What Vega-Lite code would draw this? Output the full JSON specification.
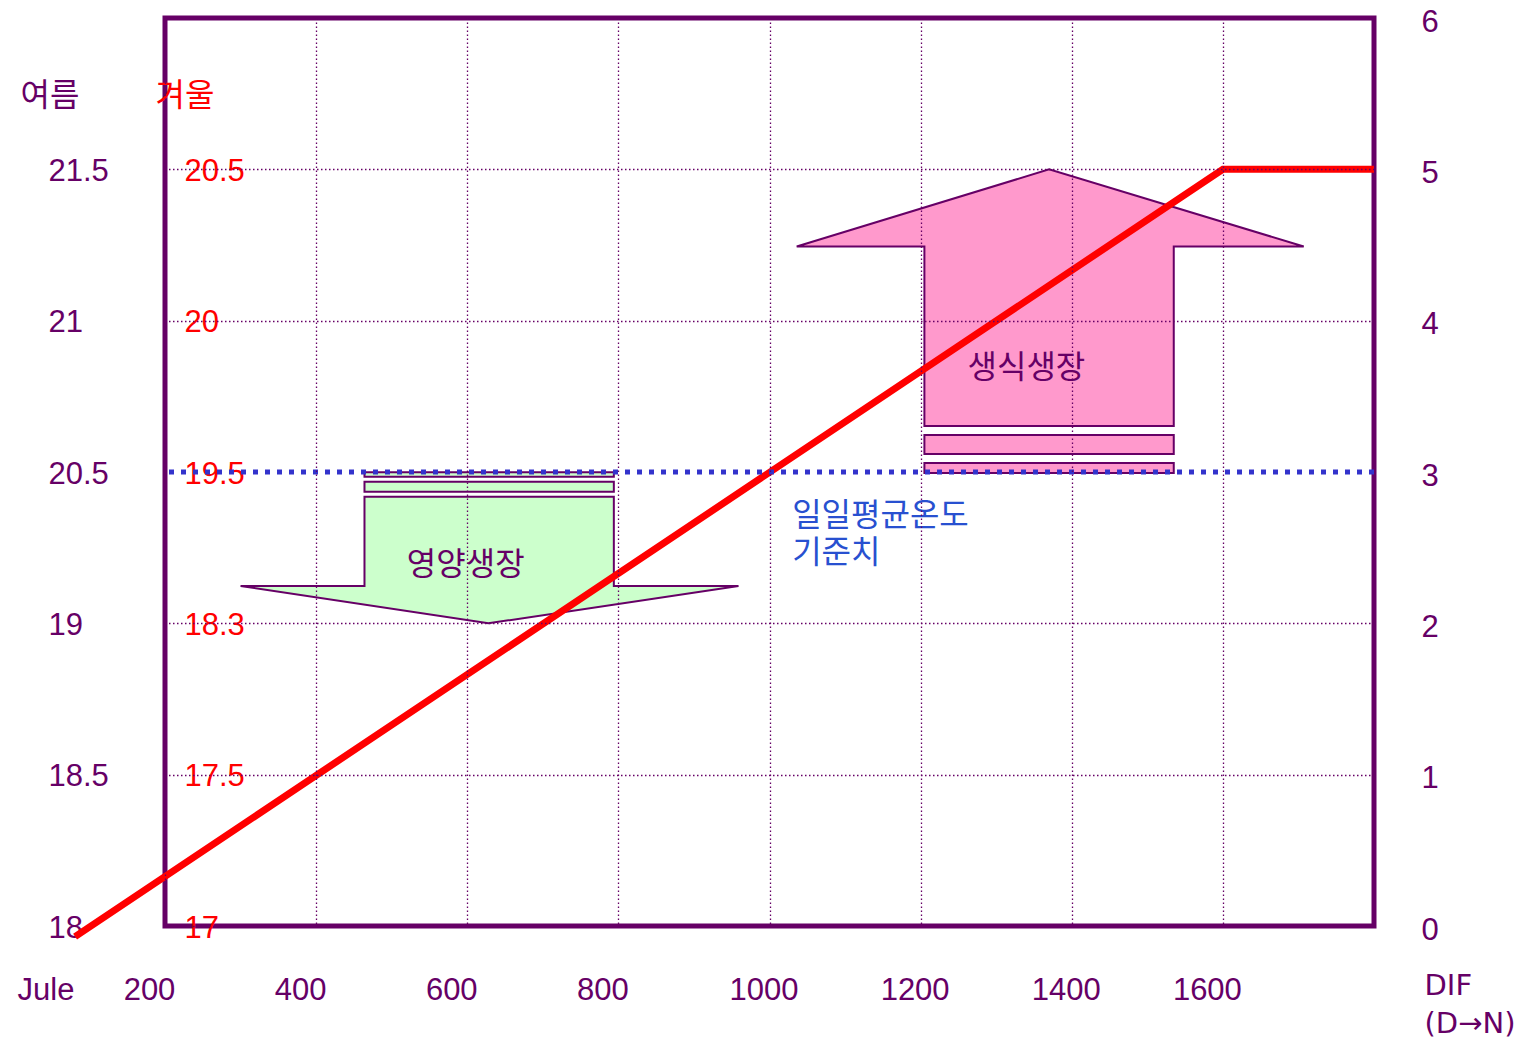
{
  "$schema": "https://vega.github.io/schema/vega-lite/v6.json",
  "width": 1209,
  "height": 908,
  "autosize": {"type": "none"},
  "padding": {"left": 165, "top": 18, "right": 163, "bottom": 125},
  "background": "white",
  "config": {
    "view": {"stroke": "#660066", "strokeWidth": 5},
    "font": "Liberation Sans, Noto Sans CJK KR, sans-serif",
    "axis": {
      "labelFont": "Liberation Sans, Noto Sans CJK KR, sans-serif",
      "titleFont": "Liberation Sans, Noto Sans CJK KR, sans-serif",
      "titleFontWeight": "normal",
      "labelOverlap": false,
      "labelBound": false,
      "labelFlush": false
    }
  },
  "datasets": {
    "difLine": [
      {"x": 81, "y": -0.07},
      {"x": 1600, "y": 5},
      {"x": 1800, "y": 5}
    ],
    "threshold": [{"y": 3}],
    "arrowOutline": [
      {"arrow": "생식생장", "i": 0, "x": 1205, "y": 3.304},
      {"arrow": "생식생장", "i": 1, "x": 1205, "y": 4.49},
      {"arrow": "생식생장", "i": 2, "x": 1036, "y": 4.49},
      {"arrow": "생식생장", "i": 3, "x": 1370, "y": 5.0},
      {"arrow": "생식생장", "i": 4, "x": 1707, "y": 4.49},
      {"arrow": "생식생장", "i": 5, "x": 1535, "y": 4.49},
      {"arrow": "생식생장", "i": 6, "x": 1535, "y": 3.304},
      {"arrow": "영양생장", "i": 0, "x": 464, "y": 2.837},
      {"arrow": "영양생장", "i": 1, "x": 464, "y": 2.247},
      {"arrow": "영양생장", "i": 2, "x": 300, "y": 2.247},
      {"arrow": "영양생장", "i": 3, "x": 628, "y": 2.0},
      {"arrow": "영양생장", "i": 4, "x": 959, "y": 2.247},
      {"arrow": "영양생장", "i": 5, "x": 794, "y": 2.247},
      {"arrow": "영양생장", "i": 6, "x": 794, "y": 2.837}
    ],
    "arrowBars": [
      {"arrow": "생식생장", "x": 1205, "x2": 1535, "y": 3.119, "y2": 3.245},
      {"arrow": "생식생장", "x": 1205, "x2": 1535, "y": 2.994, "y2": 3.06},
      {"arrow": "영양생장", "x": 464, "x2": 794, "y": 2.87, "y2": 2.936},
      {"arrow": "영양생장", "x": 464, "x2": 794, "y": 2.969, "y2": 2.998}
    ],
    "arrowLabels": [
      {"label": "생식생장", "x": 1340, "y": 3.687},
      {"label": "영양생장", "x": 598, "y": 2.386}
    ],
    "thresholdLabel": [
      {"label": "일일평균온도", "x": 1030, "y": 2.708},
      {"label": "기준치", "x": 1030, "y": 2.462}
    ]
  },
  "resolve": {"axis": {"y": "independent"}},
  "layer": [
    {
      "data": {"name": "arrowOutline"},
      "transform": [{"filter": "datum.arrow === '생식생장'"}],
      "mark": {"type": "line", "interpolate": "linear-closed", "fill": "#ff99cc", "stroke": "#660066", "strokeWidth": 2},
      "encoding": {
        "x": {
          "field": "x", "type": "quantitative",
          "scale": {"domain": [200, 1800], "nice": false, "zero": false},
          "axis": {
            "values": [200, 400, 600, 800, 1000, 1200, 1400, 1600],
            "format": "d",
            "grid": true,
            "gridColor": "#660066",
            "gridDash": [1.5, 2.5],
            "gridWidth": 1.3,
            "domain": false,
            "ticks": false,
            "tickSize": 0,
            "labelFontSize": 31,
            "labelColor": "#660066",
            "labelPadding": 73,
            "labelBaseline": "alphabetic",
            "labelOffset": {"condition": {"test": "datum.value >= 1000 && datum.value < 1600", "value": -6}, "value": -16},
            "title": "Jule",
            "titleFontSize": 31,
            "titleColor": "#660066",
            "titleAlign": "left",
            "titleBaseline": "alphabetic",
            "titleX": -148,
            "titleY": 73,
            "zindex": 1
          }
        },
        "y": {"field": "y", "type": "quantitative", "scale": {"domain": [0, 6], "nice": false, "zero": false}, "axis": null},
        "order": {"field": "i", "type": "quantitative"}
      }
    },
    {
      "data": {"name": "arrowOutline"},
      "transform": [{"filter": "datum.arrow === '영양생장'"}],
      "mark": {"type": "line", "interpolate": "linear-closed", "fill": "#ccffcc", "stroke": "#660066", "strokeWidth": 2},
      "encoding": {
        "x": {"field": "x", "type": "quantitative", "scale": {"domain": [200, 1800], "nice": false, "zero": false}},
        "y": {"field": "y", "type": "quantitative", "scale": {"domain": [0, 6], "nice": false, "zero": false}, "axis": null},
        "order": {"field": "i", "type": "quantitative"}
      }
    },
    {
      "data": {"name": "arrowBars"},
      "mark": {"type": "rect", "stroke": "#660066", "strokeWidth": 2},
      "encoding": {
        "x": {"field": "x", "type": "quantitative", "scale": {"domain": [200, 1800], "nice": false, "zero": false}},
        "x2": {"field": "x2"},
        "y": {"field": "y", "type": "quantitative", "scale": {"domain": [0, 6], "nice": false, "zero": false}, "axis": null},
        "y2": {"field": "y2"},
        "fill": {
          "field": "arrow", "type": "nominal",
          "scale": {"domain": ["생식생장", "영양생장"], "range": ["#ff99cc", "#ccffcc"]},
          "legend": null
        }
      }
    },
    {
      "data": {"name": "arrowLabels"},
      "mark": {"type": "text", "font": "Noto Sans CJK KR", "fontSize": 32, "color": "#660066", "align": "center", "baseline": "middle"},
      "encoding": {
        "x": {"field": "x", "type": "quantitative", "scale": {"domain": [200, 1800], "nice": false, "zero": false}},
        "y": {
          "field": "y", "type": "quantitative",
          "scale": {"domain": [0, 6], "nice": false, "zero": false},
          "axis": {
            "orient": "left",
            "values": [0, 1, 2, 3, 4, 5],
            "grid": false,
            "domain": false,
            "ticks": false,
            "tickSize": 0,
            "labelAlign": "left",
            "labelBaseline": "middle",
            "labelPadding": -19,
            "labelOffset": 2,
            "labelFontSize": 31,
            "labelColor": "#ff0000",
            "labelExpr": "['17', '17.5', '18.3', '19.5', '20', '20.5'][datum.value]",
            "title": "겨울",
            "titleFont": "Noto Sans CJK KR",
            "titleFontSize": 32,
            "titleColor": "#ff0000",
            "titleAngle": 0,
            "titleAlign": "left",
            "titleBaseline": "middle",
            "titleX": -10,
            "titleY": 77
          }
        },
        "text": {"field": "label", "type": "nominal"}
      }
    },
    {
      "data": {"name": "difLine"},
      "mark": {"type": "line", "color": "#ff0000", "strokeWidth": 7},
      "encoding": {
        "x": {"field": "x", "type": "quantitative", "scale": {"domain": [200, 1800], "nice": false, "zero": false}},
        "y": {
          "field": "y", "type": "quantitative",
          "scale": {"domain": [0, 6], "nice": false, "zero": false},
          "axis": {
            "orient": "right",
            "values": [0, 1, 2, 3, 4, 5, 6],
            "grid": true,
            "gridColor": "#660066",
            "gridDash": [1.5, 2.5],
            "gridWidth": 1.3,
            "gridOpacity": {"condition": {"test": "datum.value === 3", "value": 0}, "value": 1},
            "domain": false,
            "ticks": false,
            "tickSize": 0,
            "labelAlign": "left",
            "labelBaseline": "middle",
            "labelPadding": 47,
            "labelOffset": 4,
            "labelFontSize": 31,
            "labelColor": "#660066",
            "title": ["DIF", "(D→N)"],
            "titleFont": "DejaVu Sans",
            "titleFontSize": 29,
            "titleColor": "#660066",
            "titleAngle": 0,
            "titleAlign": "left",
            "titleBaseline": "alphabetic",
            "titleLineHeight": 38,
            "titleX": 50,
            "titleY": 976,
            "zindex": 1
          }
        }
      }
    },
    {
      "data": {"name": "threshold"},
      "mark": {"type": "rule", "color": "#3333cc", "strokeWidth": 5, "strokeDash": [5, 7]},
      "encoding": {
        "y": {
          "field": "y", "type": "quantitative",
          "scale": {"domain": [0, 6], "nice": false, "zero": false},
          "axis": {
            "orient": "left",
            "values": [0, 1, 2, 3, 4, 5],
            "grid": false,
            "domain": false,
            "ticks": false,
            "tickSize": 0,
            "labelAlign": "left",
            "labelBaseline": "middle",
            "labelPadding": 117,
            "labelOffset": 2,
            "labelFontSize": 31,
            "labelColor": "#660066",
            "labelExpr": "['18', '18.5', '19', '20.5', '21', '21.5'][datum.value]",
            "title": "여름",
            "titleFont": "Noto Sans CJK KR",
            "titleFontSize": 32,
            "titleColor": "#660066",
            "titleAngle": 0,
            "titleAlign": "left",
            "titleBaseline": "middle",
            "titleX": -145,
            "titleY": 77
          }
        }
      }
    },
    {
      "data": {"name": "thresholdLabel"},
      "mark": {"type": "text", "font": "Noto Sans CJK KR", "fontSize": 32, "color": "#2850d0", "align": "left", "baseline": "middle"},
      "encoding": {
        "x": {"field": "x", "type": "quantitative", "scale": {"domain": [200, 1800], "nice": false, "zero": false}},
        "y": {"field": "y", "type": "quantitative", "scale": {"domain": [0, 6], "nice": false, "zero": false}, "axis": null},
        "text": {"field": "label", "type": "nominal"}
      }
    }
  ]
}
